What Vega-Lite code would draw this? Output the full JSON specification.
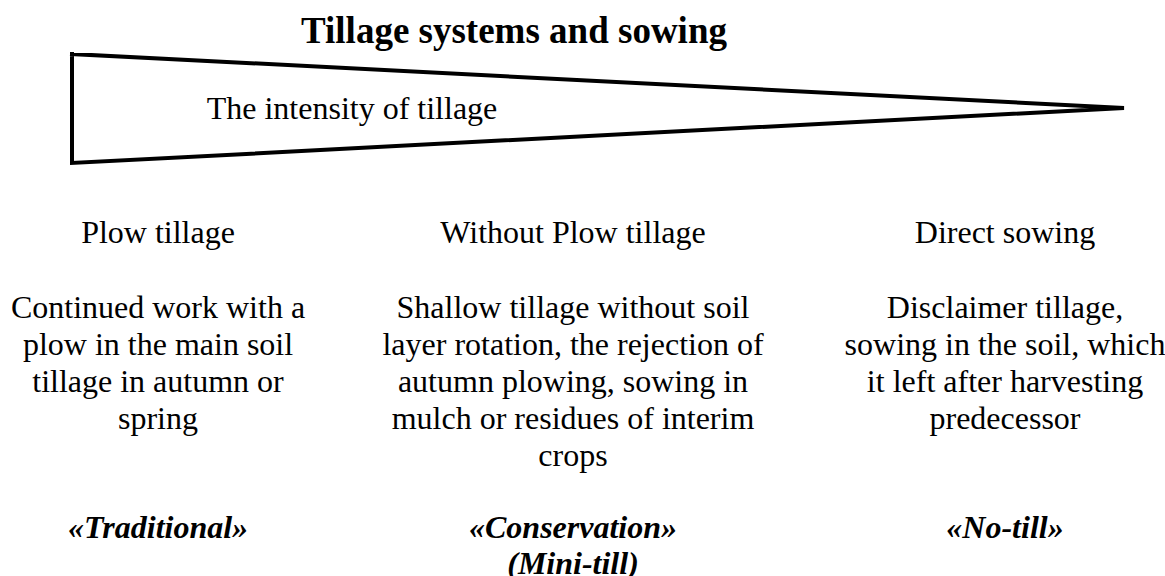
{
  "$schema": "https://vega.github.io/schema/vega-lite/v6.json",
  "width": 1165,
  "height": 576,
  "padding": 0,
  "autosize": {"type": "none"},
  "background": "white",
  "config": {"view": {"stroke": null}},
  "datasets": {
    "wedge": [
      {"order": 1, "x": 72, "y": 54},
      {"order": 2, "x": 1124, "y": 108},
      {"order": 3, "x": 72, "y": 163},
      {"order": 4, "x": 72, "y": 54}
    ],
    "texts": [
      {"kind": "title", "text": "Tillage systems and sowing", "x": 514, "y": 32},
      {"kind": "plain", "text": "The intensity of tillage", "x": 352, "y": 109},
      {"kind": "plain", "text": "Plow tillage", "x": 158, "y": 233},
      {"kind": "plain", "text": "Without Plow tillage", "x": 573, "y": 233},
      {"kind": "plain", "text": "Direct sowing", "x": 1005, "y": 233},
      {"kind": "plain", "text": "Continued work with a", "x": 158, "y": 308},
      {"kind": "plain", "text": "plow in the main soil", "x": 158, "y": 345},
      {"kind": "plain", "text": "tillage in autumn or", "x": 158, "y": 382},
      {"kind": "plain", "text": "spring", "x": 158, "y": 419},
      {"kind": "plain", "text": "Shallow tillage without soil", "x": 573, "y": 308},
      {"kind": "plain", "text": "layer rotation, the rejection of", "x": 573, "y": 345},
      {"kind": "plain", "text": "autumn plowing, sowing in", "x": 573, "y": 382},
      {"kind": "plain", "text": "mulch or residues of interim", "x": 573, "y": 419},
      {"kind": "plain", "text": "crops", "x": 573, "y": 456},
      {"kind": "plain", "text": "Disclaimer tillage,", "x": 1005, "y": 308},
      {"kind": "plain", "text": "sowing in the soil, which", "x": 1005, "y": 345},
      {"kind": "plain", "text": "it left after harvesting", "x": 1005, "y": 382},
      {"kind": "plain", "text": "predecessor", "x": 1005, "y": 419},
      {"kind": "type", "text": "«Traditional»", "x": 158, "y": 528},
      {"kind": "type", "text": "«Conservation»", "x": 573, "y": 528},
      {"kind": "type", "text": "(Mini-till)", "x": 573, "y": 564},
      {"kind": "type", "text": "«No-till»", "x": 1005, "y": 528}
    ]
  },
  "layer": [
    {
      "data": {"name": "wedge"},
      "mark": {"type": "line", "color": "black", "strokeWidth": 4, "strokeJoin": "miter", "strokeCap": "square", "clip": false},
      "encoding": {
        "x": {"field": "x", "type": "quantitative", "scale": {"domain": [0, 1165]}, "axis": null},
        "y": {"field": "y", "type": "quantitative", "scale": {"domain": [576, 0]}, "axis": null},
        "order": {"field": "order", "type": "quantitative"}
      }
    },
    {
      "data": {"name": "texts"},
      "transform": [{"filter": "datum.kind === 'title'"}],
      "mark": {"type": "text", "font": "Times New Roman, Liberation Serif, serif", "fontWeight": "bold", "fontSize": 37, "baseline": "middle", "align": "center", "color": "black"},
      "encoding": {
        "x": {"field": "x", "type": "quantitative", "scale": {"domain": [0, 1165]}, "axis": null},
        "y": {"field": "y", "type": "quantitative", "scale": {"domain": [576, 0]}, "axis": null},
        "text": {"field": "text"}
      }
    },
    {
      "data": {"name": "texts"},
      "transform": [{"filter": "datum.kind === 'plain'"}],
      "mark": {"type": "text", "font": "Times New Roman, Liberation Serif, serif", "fontSize": 32, "baseline": "middle", "align": "center", "color": "black"},
      "encoding": {
        "x": {"field": "x", "type": "quantitative", "scale": {"domain": [0, 1165]}, "axis": null},
        "y": {"field": "y", "type": "quantitative", "scale": {"domain": [576, 0]}, "axis": null},
        "text": {"field": "text"}
      }
    },
    {
      "data": {"name": "texts"},
      "transform": [{"filter": "datum.kind === 'type'"}],
      "mark": {"type": "text", "font": "Times New Roman, Liberation Serif, serif", "fontWeight": "bold", "fontStyle": "italic", "fontSize": 32, "baseline": "middle", "align": "center", "color": "black"},
      "encoding": {
        "x": {"field": "x", "type": "quantitative", "scale": {"domain": [0, 1165]}, "axis": null},
        "y": {"field": "y", "type": "quantitative", "scale": {"domain": [576, 0]}, "axis": null},
        "text": {"field": "text"}
      }
    }
  ]
}
